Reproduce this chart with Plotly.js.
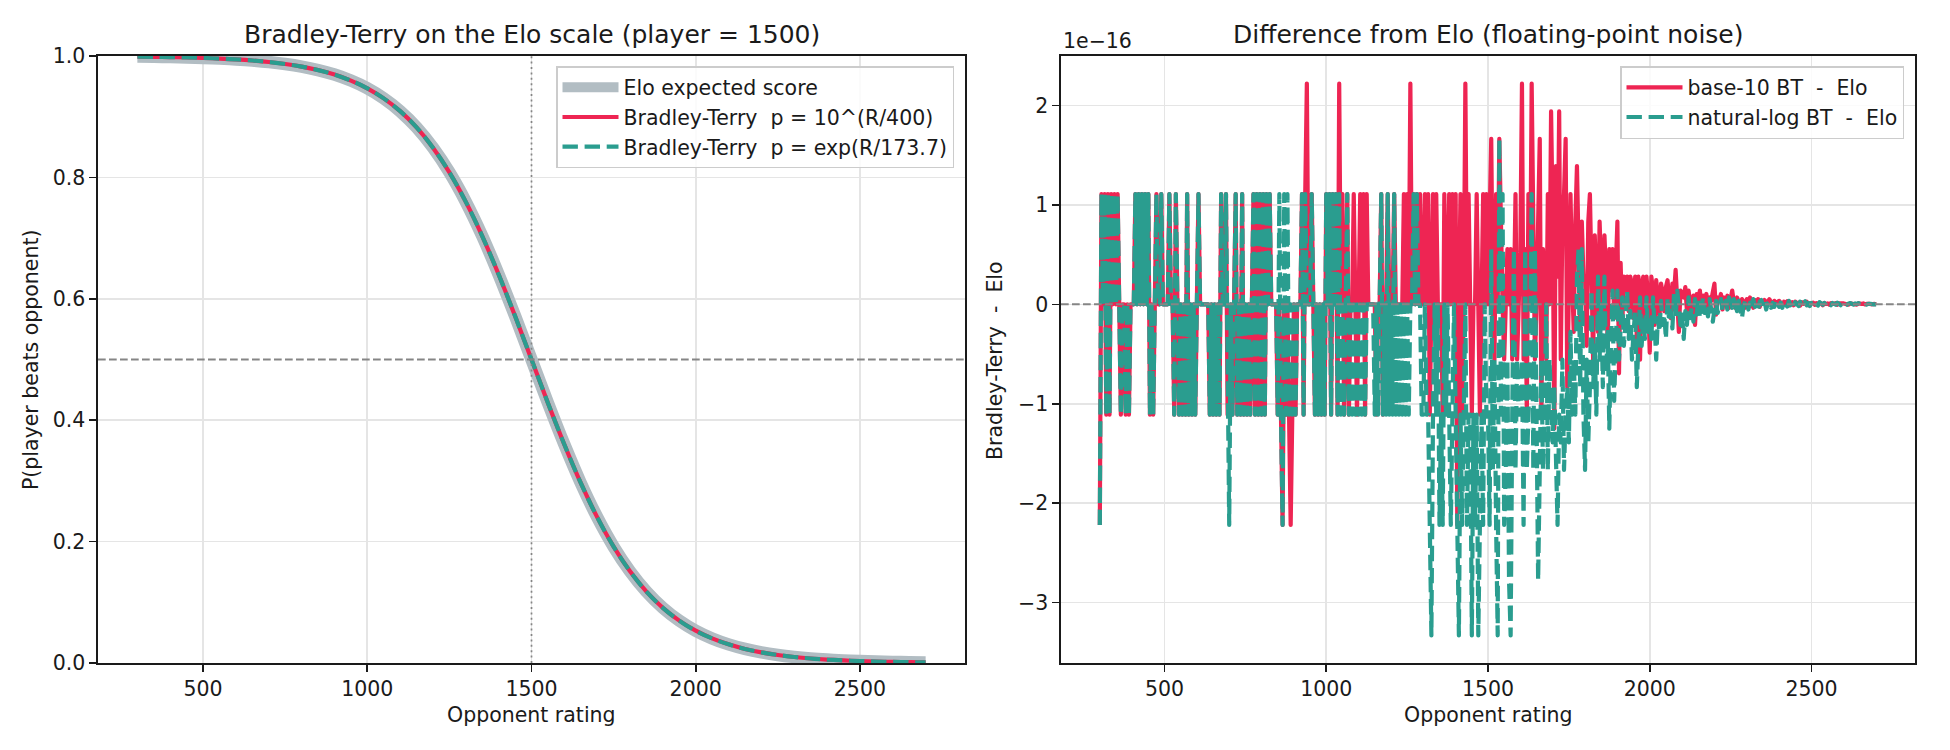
<!DOCTYPE html>
<html>
<head>
<meta charset="utf-8">
<script src="https://cdn.plot.ly/plotly-3.0.1.min.js"></script>
<style>
  html, body { margin: 0; padding: 0; background: #fff; }
  #chart { width: 1950px; height: 750px; }
  #chart path.js-line { stroke-linejoin: round; }
</style>
</head>
<body>
<div id="chart"></div>
<script>
// ---- Left panel: P(player rated 1500 beats opponent) vs opponent rating ----
const curveRatings = [300, 350, 400, 450, 500, 550, 600, 650, 700, 750, 800, 850, 900, 950,
  1000, 1050, 1100, 1150, 1200, 1250, 1300, 1350, 1400, 1450, 1500, 1550, 1600, 1650, 1700,
  1750, 1800, 1850, 1900, 1950, 2000, 2050, 2100, 2150, 2200, 2250, 2300, 2350, 2400, 2450,
  2500, 2550, 2600, 2650, 2700];
const winProb = [0.9990, 0.9987, 0.9982, 0.9976, 0.9968, 0.9958, 0.9944, 0.9926, 0.9901,
  0.9868, 0.9825, 0.9768, 0.9694, 0.9595, 0.9468, 0.9302, 0.9091, 0.8824, 0.8490, 0.8083,
  0.7597, 0.7034, 0.6400, 0.5715, 0.5000, 0.4285, 0.3600, 0.2966, 0.2403, 0.1917, 0.1510,
  0.1176, 0.0909, 0.0698, 0.0532, 0.0405, 0.0307, 0.0232, 0.0175, 0.0132, 0.0099, 0.0074,
  0.0056, 0.0042, 0.0032, 0.0024, 0.0018, 0.0013, 0.0010];

// ---- Right panel: BT minus Elo, in units of 1e-16, on a 5-point rating grid ----
const noiseStart = 300;
const noiseStep = 5;
const base10Diff = [
  // 300-395
  -2.22, 1.11, 0, 1.11, -1.11, 1.11, -1.11, 1.11, 0, 1.11, 0, 1.11, 0, -1.11, 0, 0, -1.11, 0, -1.11, 0,
  // 400-495
  0, 0, 1.11, 0, 1.11, 0, 1.11, 0, 1.11, 0, 1.11, -1.11, 0, -1.11, 0, 1.11, 0, 0, 1.11, 0,
  // 500-595
  0, 0, 0, 1.11, 0, 0, -1.11, 1.11, 0, -1.11, 0, -1.11, 0, -1.11, 1.11, -1.11, 0, -1.11, 0, -1.11,
  // 600-695
  0, 1.11, 0, 0, 0, 0, 0, 0, -1.11, 0, -1.11, 0, -1.11, 0, -1.11, 1.11, 0, 0, 1.11, -1.11,
  // 700-795
  -1.11, 0, -1.11, 0, 1.11, -1.11, 0, -1.11, 1.11, -1.11, 0, -1.11, 0, -1.11, 0, 1.11, -1.11, 1.11, -1.11, 1.11,
  // 800-895
  -1.11, 1.11, -1.11, 1.11, 0, 1.11, 0, 0, 0, 0, -1.11, 0, -1.11, -2.22, 0, -1.11, 0, -1.11, -2.22, -1.11,
  // 900-995
  0, -1.11, 0, 0, 0, 1.11, -1.11, 1.11, 2.22, 0, 0, 1.11, 0, -1.11, 0, -1.11, 0, -1.11, 0, -1.11,
  // 1000-1095
  1.11, 0, 1.11, -1.11, 1.11, 0, 1.11, -1.11, 2.22, 0, 1.11, -1.11, 0, 1.11, -1.11, 0, 0, 1.11, 0, -1.11,
  // 1100-1195
  0, 1.11, 0, 1.11, -1.11, 1.11, 0, 0, 0, 0, 0, -1.11, 0, 0, 1.11, -1.11, 0, 0, 1.11, 0,
  // 1200-1295
  0, 0, 1.11, 0, 0, 0, 0, 0, 1.11, 0, 1.11, 0, 2.22, 0, 1.11, 0, 1.11, 0, 1.11, 0,
  // 1300-1395
  0, 1.11, 0, 1.11, -1.11, 0, 1.11, 0, 1.11, 0, 0, 0, -1.11, 1.11, 0, 0, 1.11, 0, 1.11, 0,
  // 1400-1495
  1.11, -2.22, 0, 1.11, -1.11, 0, 2.22, 0, 1.11, 0, -1.11, 0, 0, 1.11, 0, -1.11, 0, 1.11, 0, 1.11,
  // 1500-1595
  0, 1.11, 1.665, 0, -0.555, 1.11, 0, 1.665, 0.555, 0, -0.555, 0, 0.555, 0, 0.555, -0.555, 0, 1.11, -0.555, 0,
  // 1600-1695
  0.555, 2.22, -0.555, 0.555, -1.11, 1.11, 0, 2.22, 0.555, -0.555, 0, 1.11, 1.665, -1.11, 0.555, 0, -0.555, 1.11, 0, 1.94,
  // 1700-1795
  0.833, -1.25, 1.39, 0.278, 1.94, -0.555, 0.833, 1.11, 1.665, -0.833, 0.555, 1.11, 0.278, -0.278, 0.833, 1.39, 0.555, -0.278, 0.833, 0.278,
  // 1800-1895
  0.278, -0.417, 0.833, 1.11, 0.278, -0.556, 0.694, 0.139, -0.278, 0.833, 0.417, -0.139, 0.694, 0.278, -0.417, 0.556, 0.139, 0.556, -0.139, 0.278,
  // 1900-1995
  0.833, -0.694, 0.417, -0.208, 0.278, 0.139, 0.278, -0.069, 0.278, 0.208, -0.139, 0.278, -0.347, 0.278, -0.556, 0.208, 0.278, -0.208, 0.278, 0.069,
  // 2000-2095
  -0.486, 0.278, 0.139, -0.208, 0.243, 0.069, -0.139, 0.208, 0.104, -0.069, 0.174, 0.243, 0.035, -0.139, 0.208, 0.104, 0.347, 0.069, -0.278, 0.139,
  // 2100-2195
  0.104, 0.069, 0.174, -0.069, 0.139, 0.035, -0.104, 0.087, -0.208, 0.104, 0.052, 0.139, -0.035, 0.087, 0.017, 0.104, -0.052, 0.069, 0.035, 0.122,
  // 2200-2295
  0.208, -0.104, 0.069, 0.035, 0.104, -0.052, 0.069, 0.017, 0.087, -0.035, 0.052, 0.139, 0.017, -0.035, 0.069, 0.035, -0.017, 0.052, 0.026, -0.035,
  // 2300-2395
  0.052, -0.017, 0.069, 0.026, -0.035, 0.043, 0.017, 0.052, -0.026, 0.035, 0.009, 0.043, -0.017, 0.026, 0.052, 0.017, -0.026, 0.035, 0.009, 0.026,
  // 2400-2495
  0.035, 0.013, -0.017, 0.026, 0.009, 0.030, -0.013, 0.017, 0.022, -0.009, 0.026, 0.009, 0.017, -0.013, 0.022, 0.004, 0.017, 0.026, -0.009, 0.013,
  // 2500-2595
  0.009, 0.017, -0.004, 0.013, 0.004, 0.017, 0.009, -0.009, 0.013, 0.004, 0.009, -0.004, 0.013, 0.009, 0.004, 0.013, -0.004, 0.009, 0.004, 0.009,
  // 2600-2700
  0.009, 0.004, 0.009, -0.004, 0.009, 0.004, 0.009, 0.004, -0.004, 0.009, 0.004, 0.004, 0.009, 0, 0.004, 0.009, 0.004, 0, 0.004, 0.004, 0
];
const natlogDiff = [
  // 300-395
  -2.22, 1.11, 0, 1.11, -1.11, 1.11, -1.11, 1.11, 0, 1.11, 0, 1.11, 0, -1.11, 0, 0, -1.11, 0, -1.11, 0,
  // 400-495
  0, 0, 1.11, 0, 1.11, 0, 1.11, 0, 1.11, 0, 1.11, -1.11, 0, -1.11, 0, 1.11, 0, 0, 1.11, 0,
  // 500-595
  0, 0, 0, 1.11, 0, 0, -1.11, 1.11, 0, -1.11, 0, -1.11, 0, -1.11, 1.11, -1.11, 0, -1.11, 0, -1.11,
  // 600-695
  0, 1.11, 0, 0, 0, 0, 0, 0, -1.11, 0, -1.11, 0, -1.11, 0, -1.11, 1.11, 0, 0, 1.11, -1.11,
  // 700-795
  -2.22, 0, -1.11, 0, 1.11, -1.11, 0, -1.11, 1.11, -1.11, 0, -1.11, 0, -1.11, 0, 1.11, -1.11, 1.11, -1.11, 1.11,
  // 800-895
  -1.11, 1.11, -1.11, 1.11, 0, 1.11, 0, 0, 0, 0, -1.11, 1.11, -1.11, -2.22, 1.11, -1.11, 1.11, -1.11, 0, -1.11,
  // 900-995
  0, -1.11, 0, 0, 0, 1.11, -1.11, 1.11, 0, 0, 0, 1.11, 0, -1.11, 0, -1.11, 0, -1.11, 0, -1.11,
  // 1000-1095
  1.11, 0, 1.11, -1.11, 1.11, 0, 1.11, -1.11, 1.11, -1.11, 0, -1.11, 0, 1.11, -1.11, 0, -1.11, 0, -1.11, 0,
  // 1100-1195
  -1.11, 0, -1.11, 0, -1.11, 0, 0, 0, 0, 0, -1.11, 0, -1.11, 0, 1.11, -1.11, 0, -1.11, 1.11, -1.11,
  // 1200-1295
  0, -1.11, 1.11, -1.11, 0, -1.11, 0, -1.11, 0, -1.11, 0, -1.11, 0, 0, 1.11, 0, 1.11, 0, 0, -1.11,
  // 1300-1395
  -1.11, 0, -1.11, -1.11, -2.22, -3.33, -1.11, 0, -1.11, 0, -2.22, -1.11, -2.22, 0, -1.11, 0, -1.11, -2.22, -1.11, 0,
  // 1400-1495
  -1.11, -2.22, -3.33, -1.11, -2.22, -1.11, 0, -2.22, -1.11, -1.11, -3.33, -1.11, -2.22, -1.11, -3.33, -2.22, -1.11, -2.22, 0, -1.11,
  // 1500-1595
  -1.11, -2.22, 0.555, -1.665, -0.555, -2.22, -3.33, 1.665, -1.11, 1.11, -2.22, -1.665, -0.555, -2.775, -3.33, -1.11, 0.555, -1.665, -0.555, -1.11,
  // 1600-1695
  -1.11, -0.555, -2.22, 0.555, -1.665, -1.11, -0.555, 1.11, -1.665, 0.555, -1.11, -2.775, -1.665, -0.555, -1.665, -1.11, 0, -1.665, -0.555, -1.11,
  // 1700-1795
  -1.39, -0.833, -1.665, -2.22, -1.11, -1.39, -0.555, -1.665, -1.11, -0.833, -1.39, -0.278, -1.11, -0.555, -1.11, 0.278, 0.555, -0.833, 0.555, -1.11,
  // 1800-1895
  -1.665, -0.555, -1.39, -0.833, 0.139, -0.833, -0.417, -1.11, 0.278, -0.556, 0, -0.833, 0.278, -0.694, -0.278, -1.25, -0.417, 0.139, -0.972, -0.278,
  // 1900-1995
  0.139, -0.556, -0.278, 0.069, -0.417, -0.208, 0.139, -0.347, -0.069, -0.556, -0.278, -0.069, -0.833, -0.208, 0.069, -0.417, -0.139, -0.347, 0.069, -0.278,
  // 2000-2095
  -0.139, -0.347, 0.069, -0.208, -0.556, -0.139, -0.278, 0.035, -0.208, -0.104, -0.347, 0.069, -0.174, -0.069, -0.243, 0.104, -0.139, 0.139, -0.069, -0.208,
  // 2100-2195
  -0.104, -0.347, -0.069, -0.208, 0.069, -0.139, -0.035, -0.174, 0.052, -0.104, 0.069, -0.139, -0.035, 0.069, -0.087, -0.017, -0.122, 0.052, -0.052, -0.174,
  // 2200-2295
  -0.052, 0.035, -0.087, -0.035, 0.052, -0.069, -0.017, 0.035, -0.052, 0.069, 0.017, -0.035, 0.052, -0.017, -0.069, 0.035, -0.035, -0.139, -0.017, 0.035,
  // 2300-2395
  0.035, -0.052, 0.017, -0.035, 0.052, -0.026, 0.017, -0.043, 0.026, 0.043, -0.017, 0.035, -0.052, 0.009, 0.026, -0.035, 0.017, -0.026, 0.043, 0.009,
  // 2400-2495
  -0.026, 0.017, -0.035, 0.026, 0.009, -0.022, 0.035, -0.009, 0.017, -0.026, 0.022, 0.009, -0.017, 0.026, -0.013, 0.017, 0.030, -0.009, 0.013, -0.017,
  // 2500-2595
  0.013, -0.009, 0.017, 0.004, -0.013, 0.022, 0.009, -0.004, 0.013, -0.009, 0.017, 0.004, -0.009, 0.013, 0.009, -0.004, 0.017, 0.004, -0.009, 0.013,
  // 2600-2700
  0.004, 0.009, -0.004, 0.009, 0.013, 0.004, -0.004, 0.009, 0.004, 0.013, -0.004, 0.009, 0.004, 0.009, -0.004, 0.004, 0.009, 0.004, 0, 0.004, 0
];

// ---- Styling ----
const FONT = 'DejaVu Sans, Liberation Sans, sans-serif';
const INK = '#1a1a1a';
const GRID = '#e5e5e5';
const RED = '#ee2553';
const TEAL = '#2a9d8f';
const BAND = '#b2bdc3';
const DASH = '15.4px,6.7px';

const gridOf = (arr) => arr.map((_, i) => noiseStart + i * noiseStep);

const traces = [
  { x: curveRatings, y: winProb, xaxis: 'x', yaxis: 'y', mode: 'lines',
    line: { color: BAND, width: 12.5, shape: 'spline' },
    name: 'Elo expected score', legend: 'legend', hoverinfo: 'skip' },
  { x: curveRatings, y: winProb, xaxis: 'x', yaxis: 'y', mode: 'lines',
    line: { color: RED, width: 4.2, shape: 'spline' },
    name: 'Bradley-Terry\u00a0\u00a0p = 10^(R/400)', legend: 'legend', hoverinfo: 'skip' },
  { x: curveRatings, y: winProb, xaxis: 'x', yaxis: 'y', mode: 'lines',
    line: { color: TEAL, width: 4.2, dash: DASH, shape: 'spline' },
    name: 'Bradley-Terry\u00a0\u00a0p = exp(R/173.7)', legend: 'legend', hoverinfo: 'skip' },
  { x: gridOf(base10Diff), y: base10Diff, xaxis: 'x2', yaxis: 'y2', mode: 'lines',
    line: { color: RED, width: 4.2 },
    name: 'base-10 BT\u00a0\u00a0-\u00a0\u00a0Elo', legend: 'legend2', hoverinfo: 'skip' },
  { x: gridOf(natlogDiff), y: natlogDiff, xaxis: 'x2', yaxis: 'y2', mode: 'lines',
    line: { color: TEAL, width: 4.2, dash: DASH },
    name: 'natural-log BT\u00a0\u00a0-\u00a0\u00a0Elo', legend: 'legend2', hoverinfo: 'skip' }
];

const W = 1950, H = 750;
const px = (v) => v / W;
const py = (v) => (H - v) / H;

const axisBase = {
  showline: true, mirror: true, linecolor: INK, linewidth: 1.6,
  ticks: 'outside', ticklen: 7, tickwidth: 1.6, tickcolor: INK,
  showgrid: true, gridcolor: GRID, gridwidth: 1.6, zeroline: false,
  tickfont: { family: FONT, size: 20.5, color: INK }
};
const yDomain = [py(663), py(56)];
const ratingTicks = [500, 1000, 1500, 2000, 2500];

const legendBase = {
  xanchor: 'right', yanchor: 'top',
  bgcolor: 'rgba(255,255,255,0.85)', bordercolor: '#cccccc', borderwidth: 1.5,
  font: { family: FONT, size: 20.5, color: INK },
  itemwidth: 56, tracegroupgap: 0, traceorder: 'normal'
};

const refLine = { color: '#858585', width: 2 };

const layout = {
  width: W, height: H,
  margin: { l: 0, r: 0, t: 0, b: 0 },
  paper_bgcolor: '#ffffff', plot_bgcolor: '#ffffff',
  showlegend: true,
  xaxis: Object.assign({}, axisBase, {
    domain: [px(98), px(965)], range: [180, 2820], tickvals: ratingTicks, anchor: 'y'
  }),
  yaxis: Object.assign({}, axisBase, {
    domain: yDomain, range: [0, 1], tickvals: [0, 0.2, 0.4, 0.6, 0.8, 1.0],
    tickformat: '.1f', anchor: 'x'
  }),
  xaxis2: Object.assign({}, axisBase, {
    domain: [px(1061), px(1915)], range: [180, 2820], tickvals: ratingTicks, anchor: 'y2'
  }),
  yaxis2: Object.assign({}, axisBase, {
    domain: yDomain, range: [-3.608, 2.498], tickvals: [-3, -2, -1, 0, 1, 2], anchor: 'x2'
  }),
  legend: Object.assign({}, legendBase, { x: px(954), y: py(66) }),
  legend2: Object.assign({}, legendBase, { x: px(1904), y: py(66) }),
  shapes: [
    { type: 'line', layer: 'above', xref: 'x domain', x0: 0, x1: 1, yref: 'y', y0: 0.5, y1: 0.5,
      line: Object.assign({}, refLine, { dash: '7.7px,3.3px' }) },
    { type: 'line', layer: 'above', xref: 'x', x0: 1500, x1: 1500, yref: 'y domain', y0: 0, y1: 1,
      line: Object.assign({}, refLine, { width: 1.7, dash: '2px,3.4px' }) },
    { type: 'line', layer: 'above', xref: 'x2 domain', x0: 0, x1: 1, yref: 'y2', y0: 0, y1: 0,
      line: Object.assign({}, refLine, { dash: '7.7px,3.3px' }) }
  ],
  annotations: [
    { text: 'Bradley-Terry on the Elo scale (player = 1500)', xref: 'paper', yref: 'paper',
      x: px(531.5), y: py(35), xanchor: 'center', yanchor: 'middle', showarrow: false,
      font: { family: FONT, size: 25, color: INK } },
    { text: 'Difference from Elo (floating-point noise)', xref: 'paper', yref: 'paper',
      x: px(1488), y: py(35), xanchor: 'center', yanchor: 'middle', showarrow: false,
      font: { family: FONT, size: 25, color: INK } },
    { text: 'Opponent rating', xref: 'paper', yref: 'paper',
      x: px(531.5), y: py(715), xanchor: 'center', yanchor: 'middle', showarrow: false,
      font: { family: FONT, size: 20.5, color: INK } },
    { text: 'Opponent rating', xref: 'paper', yref: 'paper',
      x: px(1488), y: py(715), xanchor: 'center', yanchor: 'middle', showarrow: false,
      font: { family: FONT, size: 20.5, color: INK } },
    { text: 'P(player beats opponent)', xref: 'paper', yref: 'paper', textangle: -90,
      x: px(31), y: py(360), xanchor: 'center', yanchor: 'middle', showarrow: false,
      font: { family: FONT, size: 20.5, color: INK } },
    { text: 'Bradley-Terry\u00a0\u00a0-\u00a0\u00a0Elo', xref: 'paper', yref: 'paper', textangle: -90,
      x: px(995), y: py(360), xanchor: 'center', yanchor: 'middle', showarrow: false,
      font: { family: FONT, size: 20.5, color: INK } },
    { text: '1e\u221216', xref: 'paper', yref: 'paper',
      x: px(1061), y: py(55), xanchor: 'left', yanchor: 'bottom', showarrow: false,
      font: { family: FONT, size: 20.5, color: INK } }
  ]
};

Plotly.newPlot('chart', traces, layout, { staticPlot: true, displayModeBar: false });
</script>
</body>
</html>
